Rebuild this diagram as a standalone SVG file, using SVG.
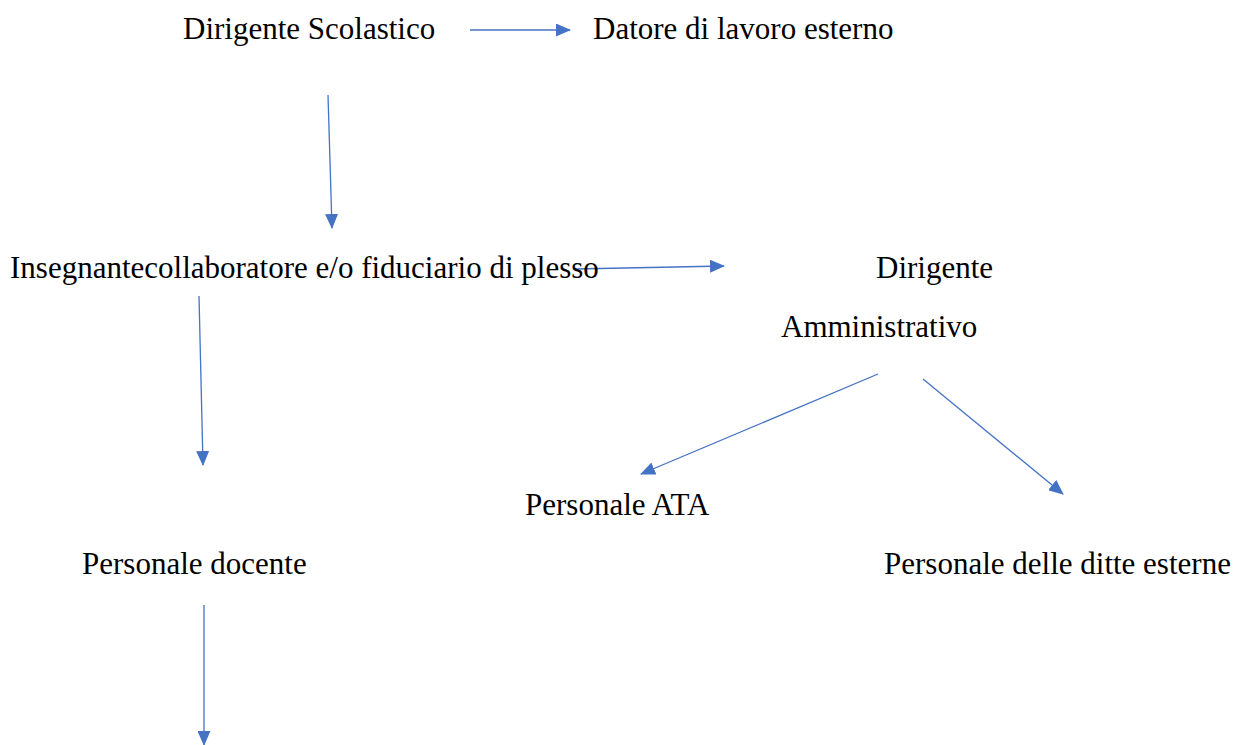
<svg xmlns="http://www.w3.org/2000/svg" width="1243" height="745" viewBox="0 0 1243 745">
<style>
text{font-family:'Liberation Serif','Times New Roman',Times,serif;font-size:31px;fill:#000}
.c{stroke:#4472C4;stroke-width:1.3;fill:none}
</style>
<defs>
<marker id="ah" viewBox="0 0 15 13" refX="14" refY="6.5" markerWidth="15" markerHeight="13" markerUnits="userSpaceOnUse" orient="auto">
<path d="M0,0 L15,6.5 L0,13 Z" fill="#4472C4"/>
</marker>
</defs>
<rect width="1243" height="745" fill="#fff"/>
<g id="connectors">
<line class="c" x1="470" y1="30" x2="570" y2="30" marker-end="url(#ah)"/>
<line class="c" x1="328" y1="95" x2="332" y2="228" marker-end="url(#ah)"/>
<line class="c" x1="575" y1="269" x2="724" y2="266" marker-end="url(#ah)"/>
<line class="c" x1="199" y1="296" x2="203" y2="465" marker-end="url(#ah)"/>
<line class="c" x1="878" y1="374" x2="641" y2="474" marker-end="url(#ah)"/>
<line class="c" x1="923" y1="379" x2="1063" y2="494" marker-end="url(#ah)"/>
<line class="c" x1="204" y1="605" x2="204" y2="745" marker-end="url(#ah)"/>
</g>
<g id="n-dirigente-scolastico"><text x="183" y="39">Dirigente Scolastico</text></g>
<g id="n-datore"><text x="593" y="39">Datore di lavoro esterno</text></g>
<g id="n-insegnante"><text x="10" y="278">Insegnantecollaboratore e/o fiduciario di plesso</text></g>
<g id="n-dirigente-amm"><text x="876" y="278">Dirigente</text><text x="781" y="337">Amministrativo</text></g>
<g id="n-ata"><text x="525" y="515">Personale ATA</text></g>
<g id="n-docente"><text x="82" y="574">Personale docente</text></g>
<g id="n-ditte"><text x="884" y="574">Personale delle ditte esterne</text></g>
</svg>
